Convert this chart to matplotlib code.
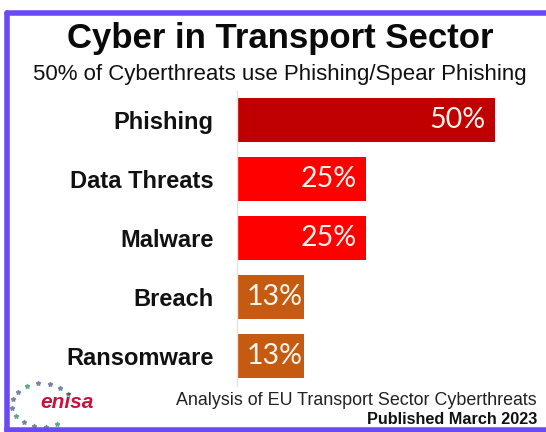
import numpy as np
import matplotlib.pyplot as plt
from matplotlib.lines import Line2D

categories = ['Phishing', 'Data Threats', 'Malware', 'Breach', 'Ransomware']
values = [50, 25, 25, 13, 13]
colors = ['#c00000', '#ff0000', '#ff0000', '#c55a11', '#c55a11']

W, H = 546, 432
fig = plt.figure(figsize=(W / 100, H / 100), dpi=100)
fig.patch.set_facecolor('white')

# axes placed so bars start at x=237px and rows are 59px apart
ax = fig.add_axes([237 / W, (H - 385.5) / H, 300 / W, 295 / H])
y = np.arange(len(categories))
ax.barh(y, values, height=0.75, color=colors, zorder=2)
ax.set_xlim(0, 300 / 5.16)
ax.set_ylim(len(categories) - 0.5, -0.5)
ax.set_yticks(y)
ax.set_yticklabels(categories, fontfamily='Liberation Sans', fontweight='bold',
                   fontsize=17, color='#111111')
ax.tick_params(axis='y', length=0, pad=17)
ax.set_xticks([])
for s in ['top', 'right', 'bottom']:
    ax.spines[s].set_visible(False)
ax.spines['left'].set_color('#e3e3e3')
ax.spines['left'].set_linewidth(1)

for yi, v in zip(y, values):
    inset = -7 if v >= 20 else -1
    ax.annotate(f'{v}%', xy=(v, yi), xytext=(inset, 0), textcoords='offset points',
                ha='right', va='center', fontsize=20.5, color='#fff4ea',
                fontfamily='Lato')

# titles
fig.text(280 / W, 1 - 48 / H, 'Cyber in Transport Sector', ha='center', va='baseline',
         fontsize=25, fontweight='bold', fontfamily='Liberation Sans', color='#0a0a0a')
fig.text(280 / W, 1 - 80 / H, '50% of Cyberthreats use Phishing/Spear Phishing',
         ha='center', va='baseline', fontsize=16, fontfamily='Liberation Sans',
         color='#111111')

# footer
fig.text(537 / W, 1 - 405 / H, 'Analysis of EU Transport Sector Cyberthreats',
         ha='right', va='baseline', fontsize=12.9, fontfamily='Liberation Sans',
         color='#222222')
fig.text(537 / W, 1 - 424 / H, 'Published March 2023', ha='right', va='baseline',
         fontsize=11.7, fontweight='bold', fontfamily='Liberation Sans', color='#111111')

# enisa logo
fig.text(40 / W, 1 - 408 / H, 'enisa', ha='left', va='baseline', fontsize=15,
         fontweight='bold', fontstyle='italic', fontfamily='Liberation Sans',
         color='#c8143c')
ang = np.linspace(np.deg2rad(30), np.deg2rad(300), 13)
sx = (42 + 30 * np.cos(ang)) / W
sy = 1 - (405 - 22 * np.sin(ang)) / H
star_cols = ['#5a6a96' if i % 4 else '#3a9a6a' for i in range(len(ang))]
for xx, yy, c in zip(sx, sy, star_cols):
    fig.add_artist(Line2D([xx], [yy], marker='*', markersize=3.5, color=c,
                          transform=fig.transFigure, alpha=0.7))

# purple frame: top, left, bottom
frame = '#6a4af5'
lw = 4
fig.add_artist(Line2D([7 / W, 1], [1 - 12.5 / H] * 2, color=frame, lw=lw,
                      transform=fig.transFigure, solid_capstyle='round'))
fig.add_artist(Line2D([7 / W] * 2, [1 - 12.5 / H, 1 - 430 / H], color=frame, lw=lw,
                      transform=fig.transFigure, solid_capstyle='round'))
fig.add_artist(Line2D([7 / W, 1], [1 - 430 / H] * 2, color=frame, lw=lw,
                      transform=fig.transFigure))

fig.savefig('out.png', dpi=100)
